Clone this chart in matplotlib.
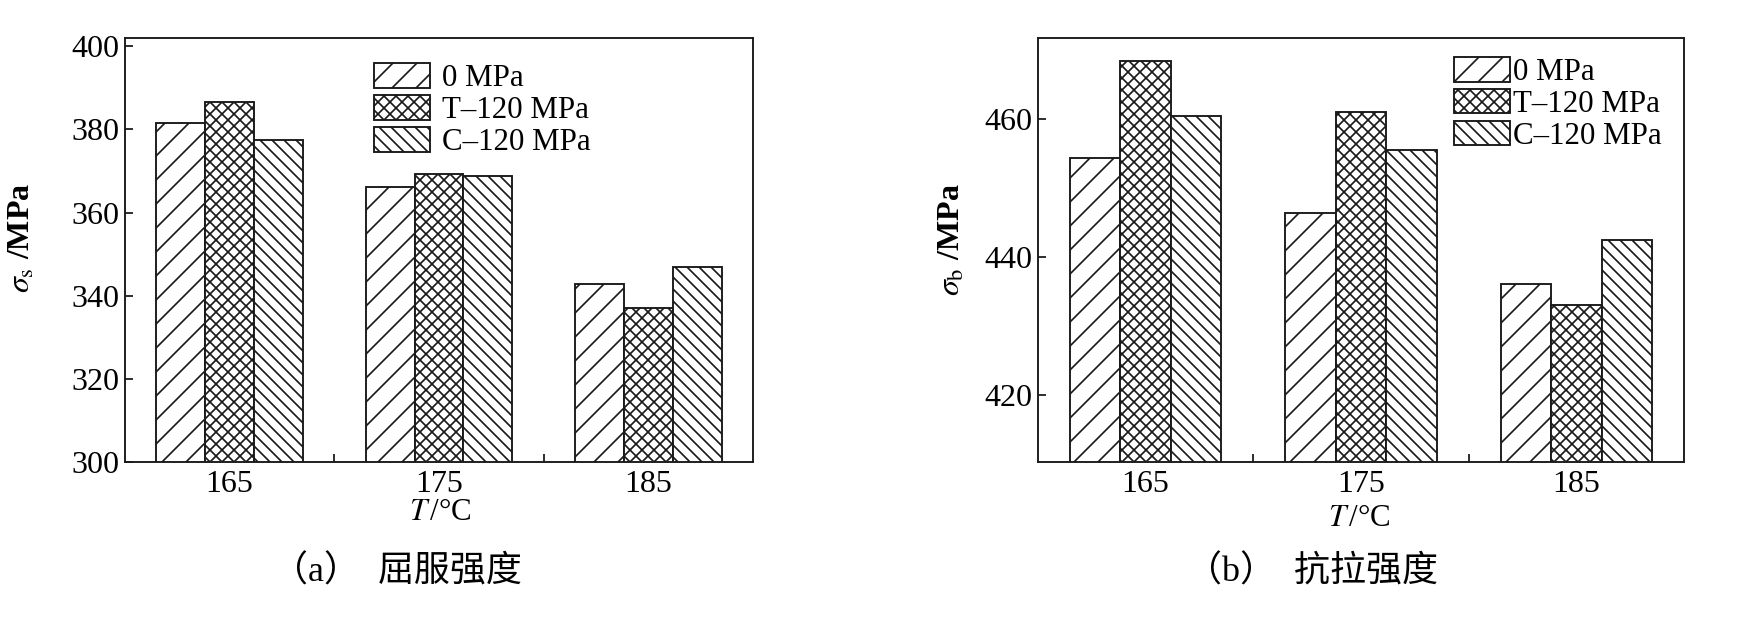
import numpy as np
import matplotlib
matplotlib.use('Agg')
import matplotlib.pyplot as plt

# data
temps = [165, 175, 185]
series = ['0 MPa', 'T–120 MPa', 'C–120 MPa']
hatches = ['/', 'xx', '\\\\']

yield_0 = [381.6, 366.2, 342.9]
yield_t = [386.5, 369.2, 337.1]
yield_c = [377.5, 368.7, 347.0]

tensile_0 = [454.4, 446.4, 436.1]
tensile_t = [468.5, 461.1, 433.0]
tensile_c = [460.5, 455.6, 442.4]

yield_ticks = [300, 320, 340, 360, 380, 400]
tensile_ticks = [420, 440, 460]

plt.rcParams['font.family'] = ['Liberation Serif', 'DejaVu Serif', 'Noto Sans CJK SC']
plt.rcParams['mathtext.fontset'] = 'stix'
plt.rcParams['hatch.linewidth'] = 1.7
plt.rcParams['hatch.color'] = 'black'

W, H = 1756, 632
fig = plt.figure(figsize=(W / 72, H / 72), dpi=72)


def draw_panel(rect, vals, yticks, ylim, ylabel, ylab_xy, xlab_xy, leg_xy, leg_pad):
    ax = fig.add_axes(rect)
    x = np.array(temps, dtype=float)
    width = 2.34
    for i, (v, lab, h) in enumerate(zip(vals, series, hatches)):
        ax.bar(x + (i - 1) * width, v, width, facecolor='white', edgecolor='#1a1a1a',
               linewidth=1.9, hatch=h, label=lab, zorder=2)
    ax.set_xlim(160, 190)
    ax.set_ylim(*ylim)
    ax.set_xticks(temps)
    ax.set_xticks([170, 180], minor=True)
    ax.set_yticks(yticks)
    ax.tick_params(which='both', direction='in', length=8, width=1.6, top=False, right=False)
    ax.tick_params(axis='x', labelsize=32, pad=8)
    ax.tick_params(axis='y', labelsize=32, pad=6)
    for s in ax.spines.values():
        s.set_linewidth(1.9)
        s.set_color('#1a1a1a')

    ax.set_xlabel(r'$T\,$/°C', fontsize=31)
    ax.xaxis.set_label_coords(*xlab_xy)
    ax.xaxis.label.set_va('center')
    ax.set_ylabel(ylabel, fontsize=32, fontweight='bold')
    ax.yaxis.set_label_coords(*ylab_xy)
    ax.yaxis.label.set_va('center')

    ax.legend(loc='upper left', bbox_to_anchor=leg_xy, frameon=False, fontsize=31,
              borderpad=0, borderaxespad=0, handlelength=1.8, handleheight=0.84,
              labelspacing=0.06, handletextpad=leg_pad)
    return ax


draw_panel([125 / W, 170 / H, 628 / W, 424 / H],
           [yield_0, yield_t, yield_c], yield_ticks, (300, 402),
           r'$\sigma_{\rm s}$ /MPa', (-0.164, 0.528), (0.502, -0.118),
           (0.3965, 0.94), 0.4)

draw_panel([1038 / W, 170 / H, 646 / W, 424 / H],
           [tensile_0, tensile_t, tensile_c], tensile_ticks, (410.2, 471.8),
           r'$\sigma_{\rm b}$ /MPa', (-0.133, 0.524), (0.497, -0.134),
           (0.644, 0.955), 0.1)

fig.text(272 / W, 1 - 572 / H, '（a）  屈服强度', fontsize=36, ha='left', va='center')
fig.text(1186 / W, 1 - 572 / H, '（b）  抗拉强度', fontsize=36, ha='left', va='center')

fig.savefig('out.png', dpi=72)
